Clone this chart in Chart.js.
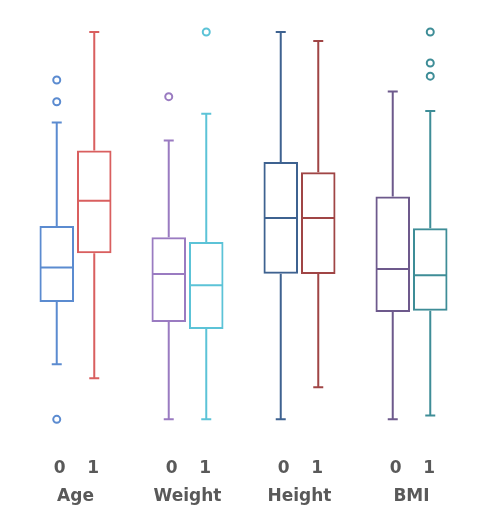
<!DOCTYPE html>
<html>
<head>
<meta charset="utf-8">
<script src="https://cdn.jsdelivr.net/npm/chart.js@4/dist/chart.umd.min.js"></script>
<style>
    html, body { margin: 0; padding: 0; background: #fff; }
    #wrap { width: 483px; height: 527px; }
</style>
</head>
<body>
<div id="wrap"><canvas id="boxChart"></canvas></div>
<script>
// Groups and sub labels
const groups = ['Age', 'Weight', 'Height', 'BMI'];
const subLabels = ['0', '1'];

// Series "0"
const min0 = [14.2, 0, 0, 0];
const q1_0 = [30.3, 25.1, 37.6, 27.7];
const med0 = [39.2, 37.5, 52.0, 38.8];
const q3_0 = [49.9, 47.0, 66.4, 57.5];
const max0 = [76.6, 72.0, 100, 84.6];
const out0 = [[87.6, 82.0, 0], [83.3], [], []];

// Series "1"
const min1 = [10.6, 0, 8.3, 1.0];
const q1_1 = [42.9, 23.3, 37.5, 28.0];
const med1 = [56.4, 34.6, 52.0, 37.2];
const q3_1 = [69.4, 45.8, 63.8, 49.3];
const max1 = [100, 78.9, 97.7, 79.6];
const out1 = [[], [100], [], [100, 92.0, 88.6]];

// Colors per box
const colors0 = ['#5B8BD0', '#9A7BC1', '#3E6290', '#6D598C'];
const colors1 = ['#D95F5F', '#5CC3D7', '#A04545', '#3E8D97'];

const stats = [
    { min: min0, med: med0, max: max0, out: out0 },
    { min: min1, med: med1, max: max1, out: out1 }
];

// Whiskers, medians, outliers and sub labels
const boxPlotExtras = {
    id: 'boxPlotExtras',
    afterDatasetsDraw(chart) {
        const ctx = chart.ctx;
        const y = chart.scales.y;
        ctx.save();
        chart.data.datasets.forEach((ds, i) => {
            const meta = chart.getDatasetMeta(i);
            const s = stats[i];
            meta.data.forEach((bar, j) => {
                const color = ds.borderColor[j];
                const [lo, hi] = ds.data[j];
                const half = bar.width / 2 - 1;
                const cap = 5;
                ctx.strokeStyle = color;
                ctx.lineWidth = 2;

                ctx.beginPath();
                // upper whisker
                ctx.moveTo(bar.x, y.getPixelForValue(hi));
                ctx.lineTo(bar.x, y.getPixelForValue(s.max[j]));
                ctx.moveTo(bar.x - cap, y.getPixelForValue(s.max[j]));
                ctx.lineTo(bar.x + cap, y.getPixelForValue(s.max[j]));
                // lower whisker
                ctx.moveTo(bar.x, y.getPixelForValue(lo));
                ctx.lineTo(bar.x, y.getPixelForValue(s.min[j]));
                ctx.moveTo(bar.x - cap, y.getPixelForValue(s.min[j]));
                ctx.lineTo(bar.x + cap, y.getPixelForValue(s.min[j]));
                // median
                ctx.moveTo(bar.x - half, y.getPixelForValue(s.med[j]));
                ctx.lineTo(bar.x + half, y.getPixelForValue(s.med[j]));
                ctx.stroke();

                // outliers
                s.out[j].forEach(v => {
                    ctx.beginPath();
                    ctx.arc(bar.x, y.getPixelForValue(v), 3.5, 0, Math.PI * 2);
                    ctx.stroke();
                });

                // sub label
                ctx.fillStyle = '#595959';
                ctx.font = 'bold 17px "DejaVu Sans"';
                ctx.textAlign = 'center';
                ctx.textBaseline = 'middle';
                ctx.fillText(ds.label, bar.x + (i === 0 ? 3 : -1), 469);
            });
        });
        ctx.restore();
    }
};

const ctx = document.getElementById('boxChart').getContext('2d');
new Chart(ctx, {
    type: 'bar',
    data: {
        labels: groups,
        datasets: [
            {
                label: subLabels[0],
                data: q1_0.map((v, i) => [v, q3_0[i]]),
                backgroundColor: 'rgba(255,255,255,0)',
                borderColor: colors0,
                borderWidth: 2,
                borderSkipped: false
            },
            {
                label: subLabels[1],
                data: q1_1.map((v, i) => [v, q3_1[i]]),
                backgroundColor: 'rgba(255,255,255,0)',
                borderColor: colors1,
                borderWidth: 2,
                borderSkipped: false
            }
        ]
    },
    options: {
        responsive: true,
        maintainAspectRatio: false,
        animation: false,
        categoryPercentage: 0.67,
        barPercentage: 0.92,
        layout: {
            padding: { left: 19.5, right: 15.5, top: 12.6, bottom: -27.7 }
        },
        scales: {
            x: {
                grid: { display: false, drawTicks: false },
                border: { display: false },
                ticks: {
                    padding: 47.8,
                    color: '#595959',
                    font: { family: 'DejaVu Sans', size: 17, weight: 'bold' }
                }
            },
            y: {
                display: false,
                min: -5,
                max: 105
            }
        },
        plugins: {
            legend: { display: false },
            tooltip: { enabled: false }
        }
    },
    plugins: [boxPlotExtras]
});
</script>
</body>
</html>
